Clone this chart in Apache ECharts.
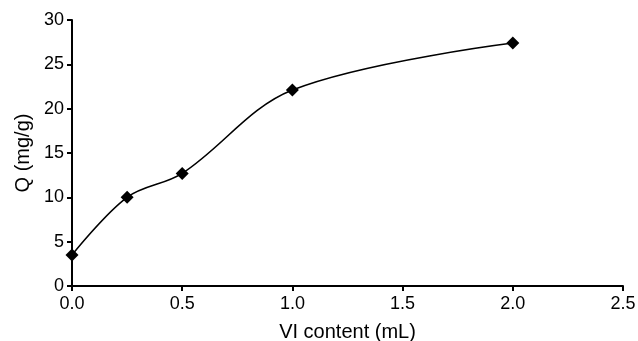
<!DOCTYPE html>
<html>
<head>
<meta charset="utf-8">
<script src="https://cdn.jsdelivr.net/npm/echarts@6/dist/echarts.min.js"></script>
<style>
  html, body { margin: 0; padding: 0; background: #fff; }
  #chart { width: 638px; height: 341px; }
</style>
</head>
<body>
<div id="chart"></div>
<script>
  // data
  var vlContent = [0, 0.25, 0.5, 1.0, 2.0];
  var qValues = [3.5, 10.0, 12.7, 22.1, 27.4];
  var xTicks = ['0.0', '0.5', '1.0', '1.5', '2.0', '2.5'];

  var points = vlContent.map(function (x, i) { return [x, qValues[i]]; });

  var myChart = echarts.init(document.getElementById('chart'));
  var font = 'Liberation Sans, Arial, sans-serif';
  var option = {
    animation: false,
    grid: { left: 72, right: 15, top: 20, bottom: 55, containLabel: false, outerBoundsMode: 'none' },
    xAxis: {
      type: 'value',
      min: 0, max: 2.5, interval: 0.5,
      name: 'VI content (mL)',
      nameLocation: 'middle',
      nameGap: 36,
      nameTextStyle: { color: '#000', fontSize: 20, fontFamily: font },
      axisLine: { show: true, lineStyle: { color: '#000', width: 2 } },
      axisTick: { show: true, length: 5, lineStyle: { color: '#000', width: 2 } },
      axisLabel: {
        color: '#000', fontSize: 18, fontFamily: font, margin: 9,
        formatter: function (v) { return xTicks[Math.round(v / 0.5)]; }
      },
      splitLine: { show: false }
    },
    yAxis: {
      type: 'value',
      min: 0, max: 30, interval: 5,
      name: 'Q (mg/g)',
      nameLocation: 'middle',
      nameGap: 38,
      nameTextStyle: { color: '#000', fontSize: 20, fontFamily: font },
      axisLine: { show: true, lineStyle: { color: '#000', width: 2 } },
      axisTick: { show: true, length: 5, lineStyle: { color: '#000', width: 2 } },
      axisLabel: { color: '#000', fontSize: 18, fontFamily: font, margin: 8 },
      splitLine: { show: false }
    },
    series: [{
      type: 'line',
      data: points,
      smooth: 0.35,
      symbol: 'diamond',
      symbolSize: 13,
      itemStyle: { color: '#000' },
      lineStyle: { color: '#000', width: 1.6 }
    }]
  };
  myChart.setOption(option);
</script>
</body>
</html>
